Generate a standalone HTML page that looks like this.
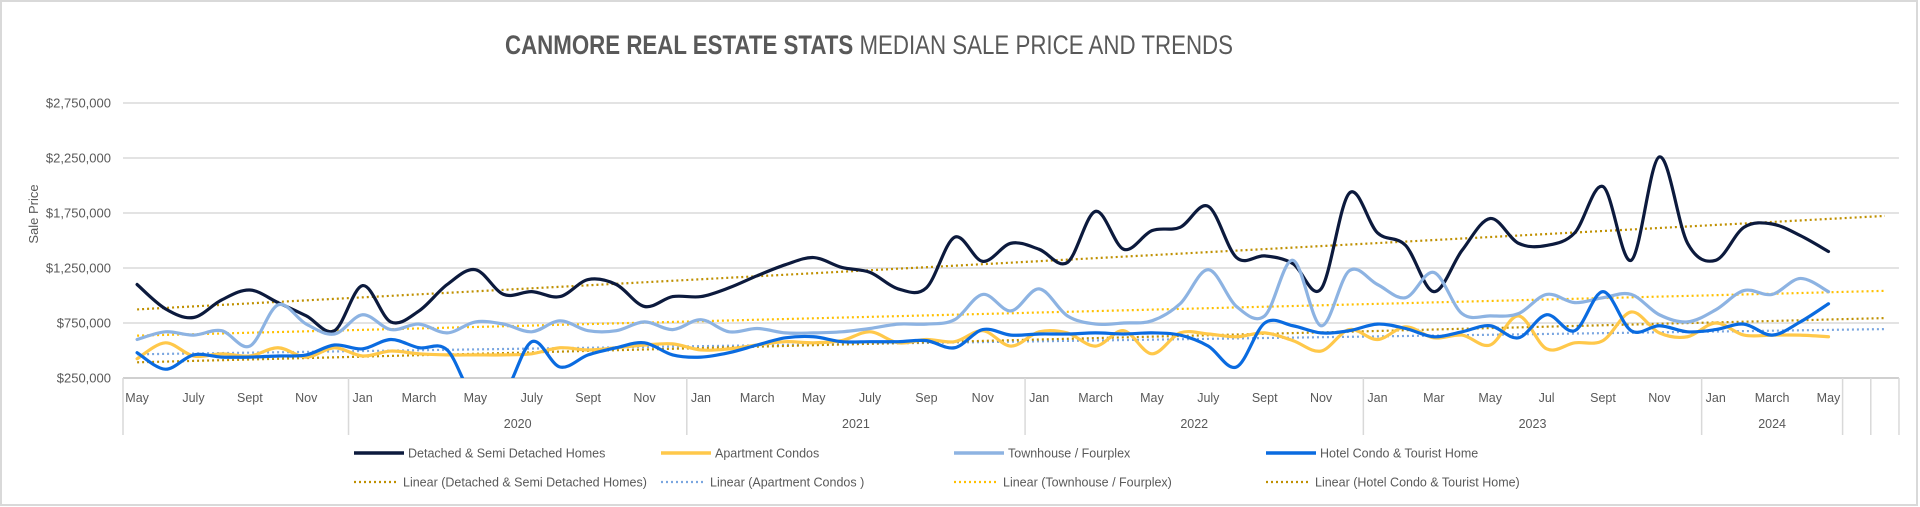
<!DOCTYPE html>
<html><head><meta charset="utf-8"><style>
html,body{margin:0;padding:0;background:#fff}
svg{display:block;font-family:"Liberation Sans",sans-serif}
</style></head><body>
<svg id="chart" width="1920" height="507" viewBox="0 0 1920 507">
<rect x="1" y="1" width="1916" height="504" fill="#fff" stroke="#d9d9d9" stroke-width="2"/>
<text x="869" y="54" text-anchor="middle" font-size="27" fill="#595959" textLength="728" lengthAdjust="spacingAndGlyphs"><tspan font-weight="bold">CANMORE REAL ESTATE STATS</tspan> MEDIAN SALE PRICE AND TRENDS</text>
<text transform="translate(38,214) rotate(-90)" text-anchor="middle" font-size="13" fill="#595959">Sale Price</text>
<g id="grid"></g><g id="yticks"></g><g id="xaxis"></g>
<defs><clipPath id="plotclip"><rect x="123" y="60" width="1780" height="318"/></clipPath></defs>
<g id="trends" clip-path="url(#plotclip)"></g>
<g id="series" clip-path="url(#plotclip)"></g>
<g id="legend"></g>
</svg>
<script>
const monthLabels = ["May","","July","","Sept","","Nov","",
"Jan","","March","","May","","July","","Sept","","Nov","",
"Jan","","March","","May","","July","","Sep","","Nov","",
"Jan","","March","","May","","July","","Sept","","Nov","",
"Jan","","Mar","","May","","Jul","","Sept","","Nov","",
"Jan","","March","","May","",""];
const yearLabels = ["2020","2021","2022","2023","2024"];
const yearStarts = [8,20,32,44,56];
const yearEnds = [20,32,44,56,61];
const yTicks = [250000,750000,1250000,1750000,2250000,2750000];
const yTickLabels = ["$250,000","$750,000","$1,250,000","$1,750,000","$2,250,000","$2,750,000"];
const detached = [1100,880,800,960,1050,935,815,680,1090,760,860,1100,1235,1010,1035,990,1145,1100,900,990,990,1070,1180,1280,1345,1255,1210,1060,1070,1530,1310,1475,1420,1300,1765,1420,1590,1620,1810,1345,1360,1290,1060,1930,1570,1455,1035,1410,1700,1475,1455,1570,1990,1320,2260,1475,1320,1620,1650,1545,1400];
const apartment = [425,570,450,470,450,525,440,525,450,495,470,460,460,460,470,525,505,525,550,560,505,515,550,580,570,590,670,570,600,580,680,540,670,660,540,680,470,660,650,625,660,590,495,690,600,715,615,640,550,815,515,570,590,850,660,625,750,640,640,640,625];
const townhouse = [600,670,640,680,540,915,740,650,825,690,740,660,760,740,670,770,680,680,760,690,780,670,700,660,660,670,700,740,740,780,1010,860,1060,815,740,750,770,925,1235,900,815,1320,725,1225,1100,980,1210,835,815,835,1010,935,980,1010,825,760,870,1045,1010,1155,1035];
const hotel = [480,330,460,440,440,450,460,550,515,600,525,505,50,100,580,350,460,525,570,460,440,480,550,615,625,580,580,580,590,525,690,640,650,650,660,650,660,640,540,350,750,725,660,680,740,700,625,670,725,615,825,680,1035,680,725,670,690,740,640,760,925];

const NS="http://www.w3.org/2000/svg";
const X0=123, SLOT=28.19, NSLOTS=63, YBASE=378, PX_PER=55/500000;
const xPos=i=>X0+SLOT*(i+0.5);
const yPos=v=>YBASE-(v-250000)*PX_PER;
function mk(tag,attrs,parent){const e=document.createElementNS(NS,tag);for(const k in attrs)e.setAttribute(k,attrs[k]);parent.appendChild(e);return e;}
const gGrid=document.getElementById('grid'),gY=document.getElementById('yticks'),gX=document.getElementById('xaxis');
yTicks.forEach((t,k)=>{
  const l=mk('line',{x1:X0,x2:X0+SLOT*NSLOTS,y1:yPos(t),y2:yPos(t),stroke:k===0?'#d0d0d0':'#e3e3e3','stroke-width':2},gGrid);
  
  
  const tx=mk('text',{x:111,y:yPos(t)+4.5,'text-anchor':'end','font-size':13,fill:'#595959'},gY);
  tx.textContent=yTickLabels[k];
  
  
});
monthLabels.forEach((m,i)=>{
  if(!m)return;
  const t=mk('text',{x:xPos(i),y:402,'text-anchor':'middle','font-size':12.5,fill:'#595959'},gX);
  t.textContent=m;
  
  
});
const divs=[0,...yearStarts,61,62,63];
divs.forEach(d=>{
  const l=mk('line',{x1:X0+SLOT*d,x2:X0+SLOT*d,y1:YBASE,y2:435,stroke:'#d9d9d9','stroke-width':1.5},gX);
  
  
});
yearLabels.forEach((y,k)=>{
  const t=mk('text',{x:X0+SLOT*(yearStarts[k]+yearEnds[k])/2,y:428,'text-anchor':'middle','font-size':12.5,fill:'#595959'},gX);
  t.textContent=y;
  
  
});
function smooth(pts){
  let d=`M${pts[0][0]},${pts[0][1]}`;
  for(let i=0;i<pts.length-1;i++){
    const p0=pts[i-1]||pts[i],p1=pts[i],p2=pts[i+1],p3=pts[i+2]||p2;
    const t=1/6;
    d+=` C${p1[0]+(p2[0]-p0[0])*t},${p1[1]+(p2[1]-p0[1])*t} ${p2[0]-(p3[0]-p1[0])*t},${p2[1]-(p3[1]-p1[1])*t} ${p2[0]},${p2[1]}`;
  }
  return d;
}
const series=[
 {name:'Detached & Semi Detached Homes',data:detached,color:'#0c1a3d',trend:'#bf9000',id:'detached'},
 {name:'Apartment Condos',data:apartment,color:'#ffc84a',trend:'#7aa6e0',id:'apartment',tname:'Apartment Condos '},
 {name:'Townhouse / Fourplex',data:townhouse,color:'#8db3e2',trend:'#ffc000',id:'townhouse'},
 {name:'Hotel Condo & Tourist Home',data:hotel,color:'#0a6be0',trend:'#bf9000',id:'hotel'}
];
const gT=document.getElementById('trends'),gS=document.getElementById('series');
series.forEach(s=>{
  const n=s.data.length;let sx=0,sy=0,sxx=0,sxy=0;
  s.data.forEach((v,i)=>{sx+=i;sy+=v;sxx+=i*i;sxy+=i*v;});
  const b=(n*sxy-sx*sy)/(n*sxx-sx*sx),a=(sy-b*sx)/n;
  const l=mk('line',{x1:xPos(0),y1:yPos((a)*1000),x2:xPos(62),y2:yPos((a+b*62)*1000),stroke:s.trend,'stroke-width':2.2,'stroke-dasharray':'2 3'},gT);
  
  
});
series.forEach(s=>{
  const pts=s.data.map((v,i)=>[xPos(i),yPos(v*1000)]);
  const p=mk('path',{d:smooth(pts),fill:'none',stroke:s.color,'stroke-width':3.2,'stroke-linejoin':'round','stroke-linecap':'round'},gS);
  
  
});
const gL=document.getElementById('legend');
const lx=[354,661,954,1266];
series.forEach((s,k)=>{
  const a=mk('line',{x1:lx[k],x2:lx[k]+50,y1:453,y2:453,stroke:s.color,'stroke-width':3.5},gL);
  
  
  const t=mk('text',{x:lx[k]+54,y:457.5,'font-size':12.5,fill:'#595959'},gL);
  t.textContent=s.name;
  
  
  const b=mk('line',{x1:lx[k],x2:lx[k]+45,y1:482,y2:482,stroke:s.trend,'stroke-width':2.2,'stroke-dasharray':'2 3'},gL);
  
  
  const t2=mk('text',{x:lx[k]+49,y:486.5,'font-size':12.5,fill:'#595959'},gL);
  t2.textContent='Linear ('+(s.tname||s.name)+')';
  
  
});
</script>
</body></html>
